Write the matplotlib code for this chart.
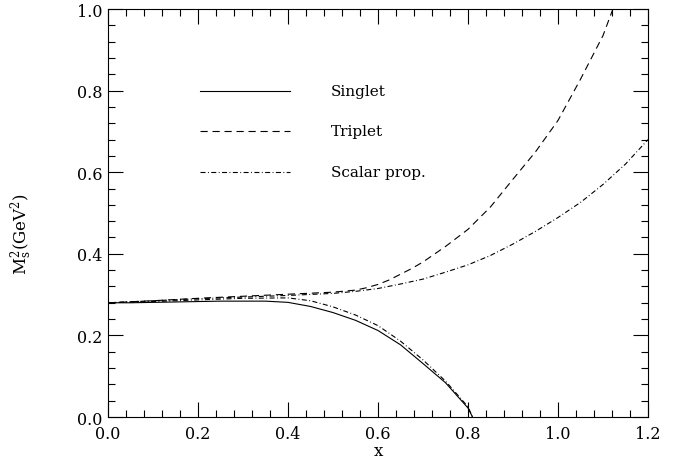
import matplotlib

matplotlib.use("Agg")

import matplotlib.pyplot as plt
from matplotlib.ticker import MultipleLocator

plt.rcParams["font.family"] = "DejaVu Serif"
plt.rcParams["mathtext.fontset"] = "dejavuserif"

# Singlet curve
singlet_x = [0.00, 0.05, 0.10, 0.15, 0.20, 0.25, 0.30, 0.35, 0.40, 0.45,
             0.50, 0.55, 0.60, 0.65, 0.70, 0.75, 0.80, 0.81]
singlet_y = [0.280, 0.280, 0.281, 0.282, 0.283, 0.284, 0.284, 0.284, 0.281, 0.271,
             0.256, 0.237, 0.212, 0.177, 0.131, 0.084, 0.022, 0.000]

# Triplet curve
triplet_x = [0.00, 0.10, 0.20, 0.30, 0.40, 0.50, 0.55, 0.575, 0.60, 0.625, 0.65,
             0.675, 0.70, 0.75, 0.80, 0.85, 0.90, 0.95, 1.00, 1.05, 1.10, 1.122]
triplet_y = [0.280, 0.285, 0.291, 0.296, 0.301, 0.306, 0.311, 0.317, 0.325, 0.336, 0.350,
             0.364, 0.380, 0.418, 0.460, 0.515, 0.583, 0.650, 0.727, 0.828, 0.935, 1.000]

# Scalar propagator, upper branch
scalar_up_x = [0.00, 0.10, 0.20, 0.30, 0.40, 0.50, 0.55, 0.60, 0.65, 0.70,
               0.75, 0.80, 0.85, 0.90, 0.95, 1.00, 1.05, 1.10, 1.15, 1.20]
scalar_up_y = [0.280, 0.285, 0.290, 0.294, 0.298, 0.303, 0.308, 0.315, 0.326, 0.338,
               0.355, 0.373, 0.396, 0.424, 0.455, 0.489, 0.526, 0.570, 0.620, 0.680]

# Scalar propagator, lower branch
scalar_lo_x = [0.00, 0.10, 0.20, 0.30, 0.40, 0.45, 0.50, 0.55, 0.60, 0.65,
               0.70, 0.75, 0.80, 0.81]
scalar_lo_y = [0.280, 0.283, 0.287, 0.291, 0.292, 0.285, 0.270, 0.250, 0.224, 0.186,
               0.140, 0.088, 0.025, 0.000]

legend_labels = ["Singlet", "Triplet", "Scalar prop."]

LW = 0.8
DASHED = (0, (6.5, 4.3))
DASHDOT = (0, (4.5, 2.2, 0.8, 2.2))

fig = plt.figure(figsize=(6.84, 4.64), dpi=100)
ax = fig.add_axes([0.1579, 0.0991, 0.7895, 0.8793])

ax.plot(singlet_x, singlet_y, color="black", lw=LW, linestyle="-")
ax.plot(triplet_x, triplet_y, color="black", lw=LW, linestyle=DASHED)
ax.plot(scalar_up_x, scalar_up_y, color="black", lw=LW, linestyle=DASHDOT)
ax.plot(scalar_lo_x, scalar_lo_y, color="black", lw=LW, linestyle=DASHDOT)

# hand-drawn legend, like the original
styles = ["-", DASHED, DASHDOT]
rows_y = [0.80, 0.70, 0.60]
for label, ls, yy in zip(legend_labels, styles, rows_y):
    ax.plot([0.205, 0.405], [yy, yy], color="black", lw=LW, linestyle=ls)
    ax.text(0.495, yy, label, fontsize=11, va="center", ha="left")

ax.set_xlim(0.0, 1.2)
ax.set_ylim(0.0, 1.0)
ax.xaxis.set_major_locator(MultipleLocator(0.2))
ax.xaxis.set_minor_locator(MultipleLocator(0.04))
ax.yaxis.set_major_locator(MultipleLocator(0.2))
ax.yaxis.set_minor_locator(MultipleLocator(0.04))
ax.xaxis.set_major_formatter(lambda v, p: f"{v:.1f}")
ax.yaxis.set_major_formatter(lambda v, p: f"{v:.1f}")

ax.tick_params(which="both", direction="in", top=True, right=True, width=0.8)
ax.tick_params(which="major", length=11, labelsize=11.5)
ax.tick_params(axis="x", which="major", pad=6)
ax.tick_params(axis="y", which="major", pad=4)
ax.tick_params(which="minor", length=5)
for sp in ax.spines.values():
    sp.set_linewidth(0.8)

ax.set_xlabel("x", fontsize=12)
ax.xaxis.set_label_coords(0.5, -0.062)
ax.set_ylabel(r"M$_\mathrm{s}^\mathrm{2}$(GeV$^\mathrm{2}$)", fontsize=12)
ax.yaxis.set_label_coords(-0.135, 0.45)

fig.savefig("out.png", dpi=100)
plt.close(fig)
